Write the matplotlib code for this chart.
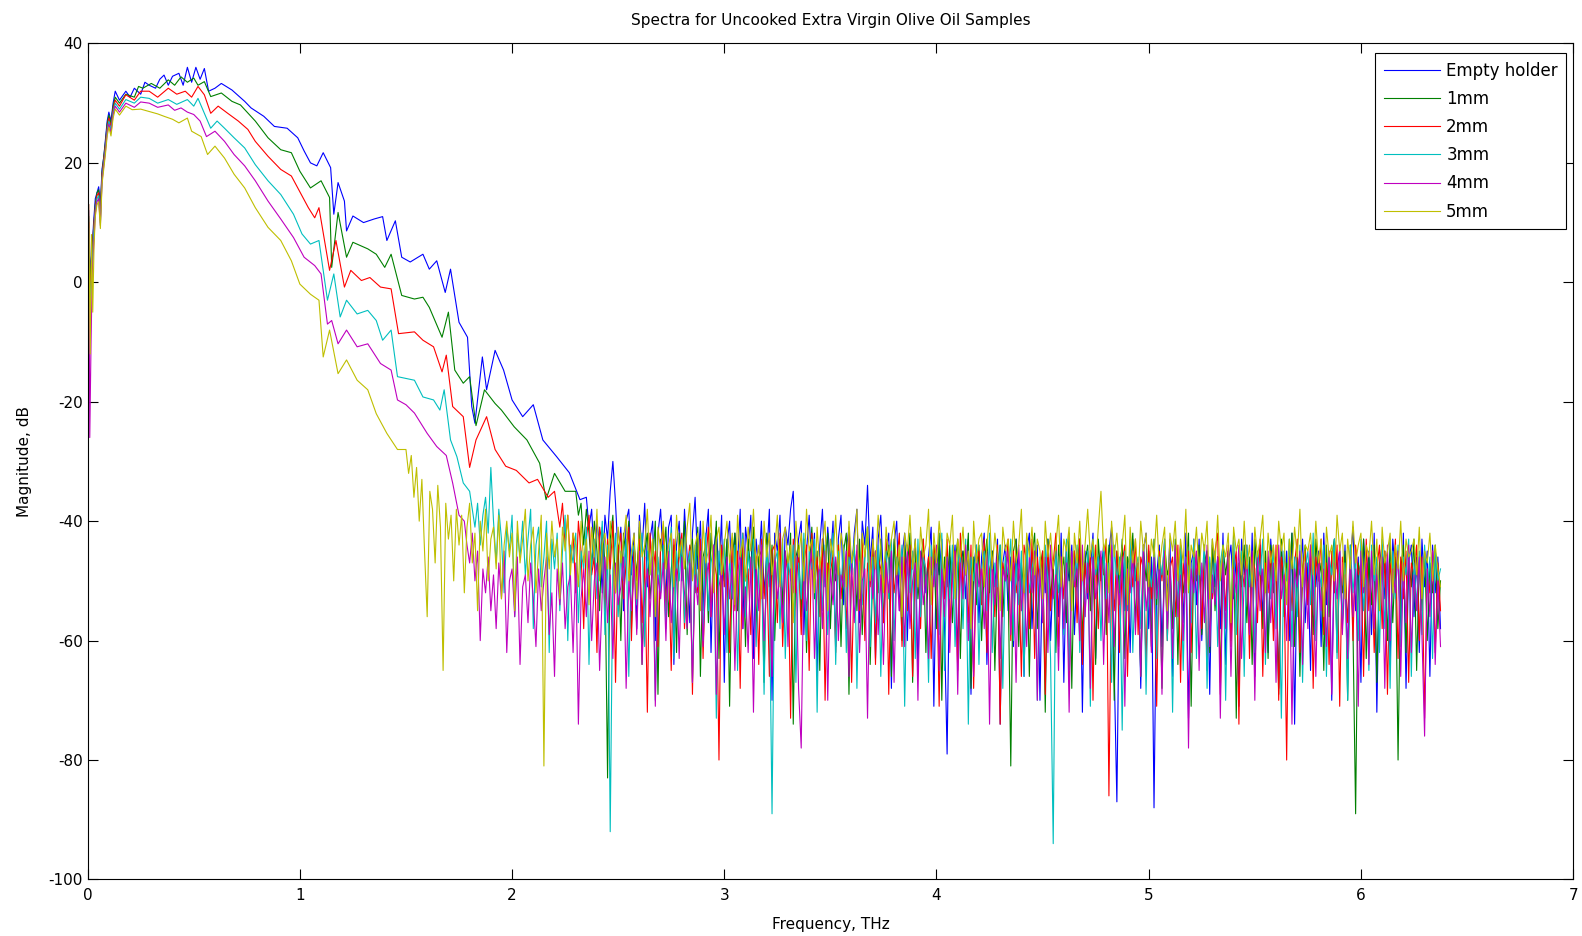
import numpy as np
import matplotlib
matplotlib.use("Agg")
import matplotlib.pyplot as plt

plt.rcParams['font.family'] = ['DejaVu Sans']
plt.rcParams['axes.unicode_minus'] = False

# smooth part of each spectrum: (frequency THz, magnitude dB)
blue_pts = [(0.005, 12), (0.012, 2), (0.02, 5), (0.028, 10), (0.036, 14), (0.044, 15), (0.052, 16), (0.06, 13),
            (0.068, 19), (0.076, 21), (0.084, 24), (0.092, 27), (0.1, 28.5), (0.11, 27), (0.12, 30), (0.13, 32),
            (0.15, 30.5), (0.18, 32), (0.2, 31), (0.22, 32.5), (0.25, 31.5), (0.27, 33.5), (0.29, 33), (0.32, 32.5),
            (0.34, 34), (0.36, 34.7), (0.38, 33), (0.40, 34.5), (0.43, 35), (0.45, 33), (0.47, 36), (0.49, 33.5),
            (0.51, 36), (0.53, 34), (0.55, 35.8), (0.57, 32), (0.60, 32.5), (0.63, 33.3), (0.68, 32.2), (0.74, 30.3),
            (0.77, 29.2), (0.83, 27.8), (0.88, 26.1), (0.94, 25.8), (0.99, 24.2), (1.02, 22), (1.05, 20), (1.08, 19.5),
            (1.11, 21.7), (1.145, 19.2), (1.16, 11.4), (1.18, 16.7), (1.21, 13.6), (1.22, 8.6), (1.25, 11.1),
            (1.30, 10), (1.35, 10.6), (1.39, 11), (1.41, 7), (1.45, 10.3), (1.48, 4.2), (1.52, 3.4), (1.58, 4.7),
            (1.61, 2.2), (1.645, 3.6), (1.685, -1.7), (1.71, 2.2), (1.75, -6.7), (1.79, -9.2), (1.81, -20.8),
            (1.825, -23.6), (1.86, -12.5), (1.88, -18), (1.92, -11.4), (1.96, -14.7), (2.0, -19.7), (2.05, -22.5),
            (2.1, -20.5), (2.145, -26.4), (2.21, -29.2), (2.27, -31.9), (2.32, -36.4)]
green_pts = [(0.005, 11), (0.012, 0), (0.02, 4), (0.028, 9), (0.036, 13), (0.044, 15), (0.052, 15.5), (0.06, 12),
             (0.068, 18.5), (0.076, 21), (0.084, 23.5), (0.092, 26.5), (0.1, 28), (0.11, 26.5), (0.12, 29.5),
             (0.13, 31), (0.15, 30), (0.18, 31.5), (0.22, 31), (0.24, 32.8), (0.26, 32.5), (0.3, 33.3), (0.34, 32.5),
             (0.38, 33.9), (0.41, 33), (0.44, 34.4), (0.47, 33.5), (0.5, 34.2), (0.52, 33), (0.55, 33.6), (0.58, 31.1),
             (0.63, 31.7), (0.68, 30.3), (0.72, 29.7), (0.79, 27), (0.85, 24.2), (0.91, 22.2), (0.96, 21.7),
             (1.0, 18.6), (1.05, 15.8), (1.1, 17), (1.14, 14.2), (1.15, 2.5), (1.18, 11.7), (1.22, 4.2), (1.25, 6.7),
             (1.32, 5.6), (1.36, 4.7), (1.40, 2.5), (1.43, 4.7), (1.48, -2.2), (1.54, -2.8), (1.58, -2.5),
             (1.61, -4.2), (1.67, -9.2), (1.70, -5), (1.73, -14.7), (1.77, -16.9), (1.80, -15.8), (1.83, -24),
             (1.87, -18), (1.92, -20.3), (1.95, -21.4), (2.01, -24.2), (2.07, -26.4), (2.13, -30.3), (2.16, -36.4),
             (2.2, -32), (2.25, -35)]
red_pts = [(0.005, 10), (0.012, -2), (0.02, 3), (0.028, 9), (0.036, 12.5), (0.044, 14.5), (0.052, 15), (0.06, 11),
           (0.068, 18), (0.076, 20.5), (0.084, 23), (0.092, 26), (0.1, 27.5), (0.11, 26), (0.12, 29), (0.13, 30.5),
           (0.15, 29.5), (0.18, 31.4), (0.22, 30.5), (0.25, 32), (0.29, 32), (0.33, 31), (0.38, 32.5), (0.42, 31.5),
           (0.46, 32), (0.49, 31), (0.52, 32.8), (0.55, 31.4), (0.58, 28.3), (0.615, 29.5), (0.66, 28.3),
           (0.71, 27), (0.755, 25.6), (0.79, 23.6), (0.85, 21.1), (0.91, 18.9), (0.96, 17.8), (0.99, 15.8),
           (1.04, 12.5), (1.07, 10.8), (1.09, 12.5), (1.14, 2), (1.17, 7), (1.21, -0.8), (1.24, 2), (1.29, 0.3),
           (1.33, 0.8), (1.38, -0.8), (1.43, -1.1), (1.465, -8.6), (1.54, -8.3), (1.58, -9.7), (1.63, -10.8),
           (1.67, -15), (1.69, -12.2), (1.72, -20.8), (1.77, -22.5), (1.80, -31), (1.83, -26.4), (1.88, -22.5),
           (1.92, -28), (1.97, -30.8), (2.02, -31.5), (2.08, -33.6), (2.12, -33), (2.17, -36)]
cyan_pts = [(0.005, 9), (0.012, -4), (0.02, 2), (0.028, 8), (0.036, 12), (0.044, 14), (0.052, 14.5), (0.06, 10),
            (0.068, 17.5), (0.076, 20), (0.084, 22.5), (0.092, 25.5), (0.1, 27), (0.11, 25.5), (0.12, 28.5),
            (0.13, 30), (0.15, 29), (0.18, 30.6), (0.22, 30), (0.25, 31), (0.29, 30.8), (0.33, 30), (0.38, 30.6),
            (0.42, 29.8), (0.47, 30.6), (0.50, 29.5), (0.52, 30.8), (0.55, 28.3), (0.58, 25.8), (0.61, 27),
            (0.645, 25.8), (0.69, 24.2), (0.74, 22.5), (0.79, 19.7), (0.85, 17), (0.91, 14.7), (0.97, 11.4),
            (1.01, 8.1), (1.05, 6.4), (1.09, 7), (1.13, -3), (1.16, 1.4), (1.19, -5.8), (1.22, -3), (1.27, -5.3),
            (1.32, -4.7), (1.36, -6.4), (1.39, -9.7), (1.43, -8), (1.46, -15.8), (1.54, -16.4), (1.58, -19.2),
            (1.63, -19.7), (1.66, -21.4), (1.68, -18), (1.71, -26.4), (1.74, -29.2), (1.77, -33.6)]
magenta_pts = [(0.005, 13), (0.01, -26), (0.016, -10), (0.022, 2), (0.03, 7), (0.036, 11.5), (0.044, 13.5),
               (0.052, 14), (0.06, 9.5), (0.068, 17), (0.076, 19.5), (0.084, 22), (0.092, 25), (0.1, 26.5),
               (0.11, 25), (0.12, 28), (0.13, 29.5), (0.15, 28.5), (0.18, 30), (0.22, 29.3), (0.25, 30.2),
               (0.29, 30), (0.33, 29.3), (0.38, 29.7), (0.41, 28.8), (0.44, 29.2), (0.47, 28.5), (0.5, 28.1),
               (0.53, 27), (0.56, 24.4), (0.60, 25.3), (0.645, 23.6), (0.69, 21.4), (0.74, 19.5), (0.79, 17),
               (0.85, 13.6), (0.91, 10.6), (0.97, 7.5), (1.02, 4.2), (1.07, 2.8), (1.10, 1.4), (1.13, -7),
               (1.15, -6.4), (1.18, -10.3), (1.22, -8), (1.27, -10.8), (1.32, -10.3), (1.38, -13.6), (1.43, -14.7),
               (1.46, -19.7), (1.50, -20.5), (1.54, -21.9), (1.60, -25.3), (1.645, -27.5), (1.69, -29),
               (1.72, -33.6), (1.75, -39)]
yellow_pts = [(0.005, 13), (0.012, -12), (0.018, 8), (0.024, -5), (0.03, 6), (0.036, 11), (0.044, 13),
              (0.052, 13.5), (0.06, 9), (0.068, 16.5), (0.076, 19), (0.084, 21.5), (0.092, 24.5), (0.1, 26),
              (0.11, 24.5), (0.12, 27.5), (0.13, 29), (0.15, 28), (0.18, 29.5), (0.21, 28.9), (0.25, 29),
              (0.29, 28.6), (0.33, 28.2), (0.36, 27.8), (0.40, 27.3), (0.43, 26.7), (0.47, 27.5), (0.49, 25.3),
              (0.535, 24.4), (0.565, 21.4), (0.60, 22.8), (0.645, 20.8), (0.69, 18.1), (0.74, 15.8), (0.79, 12.5),
              (0.85, 9.2), (0.91, 7), (0.96, 3.6), (1.0, -0.3), (1.05, -2), (1.09, -3), (1.11, -12.5), (1.14, -8),
              (1.18, -15.3), (1.22, -13), (1.27, -16.4), (1.32, -18), (1.36, -22), (1.41, -25.3), (1.46, -28)]

# noise floor, sampled every 0.0125 THz from the start frequency up to 6.375 THz
blue_start = 2.35
blue_noise = [-36, -41, -38, -47, -40, -44, -52, -39, -43, -35, -30, -37, -46, -41, -55, -40, -38, -49, -42, -58,
              -39, -45, -37, -51, -43, -40, -60, -42, -38, -47, -53, -41, -39, -64, -44, -40, -50, -38, -46, -57,
              -42, -36, -48, -40, -55, -43, -38, -62, -45, -41, -49, -39, -67, -44, -40, -53, -42, -47, -38, -58,
              -41, -45, -39, -63, -43, -48, -40, -52, -46, -38, -70, -42, -45, -39, -56, -41, -44, -38, -35, -50,
              -43, -40, -59, -45, -39, -48, -42, -66, -44, -38, -51, -41, -47, -40, -61, -43, -39, -54, -45, -41,
              -49, -42, -38, -57, -40, -44, -34, -47, -41, -63, -43, -39, -50, -45, -42, -68, -44, -40, -55, -46,
              -42, -60, -45, -48, -43, -65, -47, -44, -52, -46, -41, -71, -45, -49, -43, -58, -79, -46, -50, -44,
              -62, -47, -45, -53, -43, -69, -48, -44, -57, -46, -42, -64, -49, -45, -51, -43, -74, -47, -44, -55,
              -46, -61, -43, -50, -48, -66, -45, -42, -58, -47, -44, -70, -46, -52, -43, -60, -48, -45, -56, -42,
              -67, -46, -50, -44, -59, -47, -43, -72, -45, -53, -48, -42, -63, -46, -49, -44, -57, -45, -41, -65,
              -87, -48, -44, -55, -46, -62, -43, -50, -47, -68, -45, -42, -58, -46, -88, -49, -44, -61, -47, -52,
              -43, -66, -46, -49, -44, -57, -42, -73, -47, -45, -54, -43, -60, -48, -45, -69, -44, -51, -46, -58,
              -42, -64, -47, -44, -53, -46, -71, -43, -49, -45, -59, -42, -66, -48, -44, -56, -46, -62, -43, -50,
              -47, -68, -44, -52, -45, -60, -42, -74, -46, -49, -43, -57, -47, -65, -44, -51, -45, -61, -42, -54,
              -46, -70, -43, -48, -45, -58, -44, -63, -47, -41, -55, -46, -67, -43, -50, -45, -59, -42, -72, -47,
              -44, -53, -46, -64, -43, -49, -45, -60, -42, -68, -47, -44, -56, -46, -62, -43, -51, -45, -66, -44,
              -52, -46, -58]
green_start = 2.30
green_noise = [-35, -39, -37, -44, -38, -42, -48, -40, -45, -55, -41, -47, -83, -43, -39, -52, -44, -60, -42, -46,
               -40, -58, -44, -49, -41, -64, -45, -42, -53, -47, -40, -69, -43, -46, -41, -56, -48, -44, -62, -42,
               -47, -40, -59, -45, -43, -52, -41, -66, -46, -44, -57, -42, -48, -40, -63, -45, -50, -43, -71, -46,
               -42, -55, -47, -44, -61, -43, -49, -41, -58, -46, -45, -67, -42, -51, -44, -60, -47, -43, -54, -45,
               -49, -42, -74, -46, -44, -56, -43, -62, -48, -41, -53, -45, -65, -43, -47, -42, -58, -46, -50, -44,
               -61, -45, -42, -69, -47, -44, -55, -43, -59, -46, -41, -64, -48, -45, -52, -43, -57, -47, -44, -66,
               -43, -50, -46, -60, -44, -48, -42, -67, -45, -53, -47, -43, -62, -46, -49, -44, -58, -42, -70, -46,
               -51, -44, -57, -47, -43, -63, -45, -49, -42, -68, -46, -54, -44, -60, -47, -43, -52, -45, -65, -48,
               -44, -56, -46, -50, -81, -45, -43, -61, -47, -52, -44, -66, -46, -42, -58, -48, -45, -72, -43, -53,
               -47, -62, -44, -49, -46, -57, -42, -68, -45, -51, -43, -60, -47, -44, -55, -46, -64, -43, -50, -45,
               -59, -44, -47, -70, -45, -52, -43, -63, -46, -48, -42, -57, -47, -66, -44, -50, -45, -61, -43, -54,
               -46, -68, -44, -49, -47, -58, -43, -64, -45, -52, -48, -42, -71, -46, -50, -44, -59, -47, -45, -62,
               -43, -55, -46, -67, -44, -49, -45, -60, -42, -73, -47, -51, -44, -57, -46, -64, -43, -50, -48, -58,
               -45, -63, -44, -52, -46, -69, -43, -56, -47, -49, -42, -61, -45, -66, -48, -44, -54, -46, -59, -43,
               -50, -47, -65, -44, -56, -46, -43, -62, -48, -52, -45, -70, -44, -58, -89, -47, -50, -43, -63, -46,
               -54, -44, -67, -47, -49, -45, -60, -43, -57, -46, -80, -48, -44, -62, -46, -51, -43, -65, -47, -55,
               -45, -60, -47, -52, -44, -58, -50]
red_start = 2.20
red_noise = [-35, -38, -41, -37, -44, -39, -47, -42, -52, -40, -45, -58, -43, -39, -49, -46, -62, -41, -44, -55,
             -43, -48, -40, -67, -45, -42, -53, -47, -41, -60, -44, -50, -43, -57, -46, -72, -42, -49, -45, -61,
             -44, -41, -55, -47, -65, -43, -50, -46, -42, -58, -48, -44, -69, -45, -52, -43, -63, -47, -41, -56,
             -46, -49, -80, -44, -51, -47, -62, -43, -55, -45, -68, -42, -50, -48, -59, -44, -46, -64, -43, -53,
             -47, -66, -45, -44, -57, -42, -61, -48, -46, -73, -43, -52, -45, -59, -47, -44, -65, -42, -50, -46,
             -56, -43, -70, -47, -49, -45, -62, -44, -53, -46, -58, -42, -67, -48, -45, -55, -43, -60, -47, -51,
             -44, -64, -46, -48, -57, -43, -69, -45, -52, -47, -42, -61, -46, -55, -44, -66, -48, -45, -58, -43,
             -50, -46, -63, -44, -47, -71, -45, -53, -43, -59, -47, -45, -65, -42, -51, -46, -57, -44, -68, -47,
             -45, -54, -43, -62, -48, -46, -56, -44, -74, -47, -50, -43, -60, -45, -52, -48, -66, -44, -47, -58,
             -43, -63, -46, -51, -45, -69, -44, -55, -47, -42, -61, -46, -53, -44, -67, -48, -45, -57, -43, -64,
             -47, -52, -45, -70, -44, -58, -46, -49, -43, -86, -48, -55, -45, -62, -47, -44, -66, -46, -51, -43,
             -59, -46, -48, -64, -44, -53, -47, -71, -45, -50, -43, -60, -48, -46, -56, -44, -67, -47, -52, -45,
             -62, -43, -49, -46, -58, -44, -65, -47, -53, -45, -42, -69, -46, -55, -44, -61, -48, -45, -74, -47,
             -51, -44, -63, -46, -48, -57, -43, -66, -47, -52, -45, -60, -44, -70, -46, -49, -80, -45, -55, -47,
             -43, -62, -48, -45, -54, -44, -68, -46, -50, -43, -59, -47, -64, -45, -52, -44, -71, -46, -48, -57,
             -45, -60, -44, -49, -47, -66, -43, -55, -46, -62, -48, -44, -58, -45, -69, -47, -51, -43, -63, -46,
             -53, -45, -67, -47, -49, -44, -60, -46, -73, -48, -52, -45, -62, -47, -55]
cyan_start = 1.80
cyan_noise = [-35, -38, -41, -37, -44, -39, -36, -42, -31, -40, -47, -38, -43, -52, -41, -45, -39, -56, -42, -46,
              -40, -49, -43, -38, -58, -44, -41, -51, -46, -40, -62, -43, -48, -42, -55, -45, -39, -60, -44, -47,
              -42, -57, -45, -48, -41, -64, -46, -43, -53, -47, -40, -59, -44, -92, -48, -42, -56, -45, -50, -43,
              -66, -46, -44, -54, -47, -42, -61, -45, -49, -43, -70, -46, -52, -44, -58, -47, -41, -63, -45, -50,
              -43, -57, -48, -45, -67, -44, -51, -46, -60, -42, -55, -47, -44, -73, -45, -49, -43, -62, -46, -53,
              -44, -65, -47, -42, -56, -45, -50, -43, -61, -48, -46, -69, -44, -52, -89, -47, -45, -58, -43, -63,
              -46, -50, -44, -67, -47, -53, -42, -60, -45, -48, -43, -72, -46, -55, -44, -59, -47, -42, -64, -45,
              -51, -44, -62, -46, -49, -43, -68, -47, -54, -45, -41, -61, -46, -57, -44, -66, -48, -45, -53, -43,
              -60, -46, -49, -44, -71, -47, -52, -45, -63, -43, -56, -46, -48, -67, -44, -50, -47, -59, -42, -65,
              -46, -53, -44, -61, -47, -45, -58, -43, -74, -46, -50, -44, -64, -48, -45, -55, -42, -62, -47, -51,
              -44, -68, -46, -49, -43, -60, -47, -54, -45, -66, -43, -52, -48, -45, -70, -46, -57, -44, -50, -63,
              -94, -45, -52, -47, -59, -43, -65, -46, -50, -44, -62, -47, -56, -45, -71, -43, -49, -46, -60, -44,
              -53, -47, -67, -44, -50, -46, -75, -45, -55, -43, -62, -48, -46, -58, -44, -69, -47, -51, -45, -63,
              -46, -49, -43, -60, -47, -72, -45, -54, -44, -65, -46, -48, -57, -43, -63, -47, -50, -44, -68, -46,
              -52, -45, -61, -47, -44, -70, -46, -55, -43, -59, -48, -45, -66, -44, -51, -47, -62, -45, -49, -43,
              -64, -46, -53, -44, -58, -47, -73, -45, -50, -43, -61, -46, -56, -44, -67, -48, -45, -54, -42, -60,
              -47, -51, -44, -66, -46, -49, -43, -63, -45, -57, -47, -70, -44, -52, -46, -60, -43, -55, -48, -65,
              -44, -50, -46, -62, -43, -58, -47, -68, -45, -53, -44, -61, -46, -49, -43, -66, -47, -54, -45, -59,
              -44, -52, -46, -63, -45, -50, -48]
magenta_start = 1.775
magenta_noise = [-40, -44, -47, -42, -50, -45, -60, -48, -52, -46, -55, -49, -58, -47, -53, -45, -62, -50, -48, -56,
                 -46, -64, -51, -49, -57, -47, -53, -61, -48, -55, -50, -46, -59, -52, -66, -48, -54, -47, -58, -51,
                 -49, -62, -47, -74, -53, -48, -56, -45, -60, -50, -47, -65, -52, -46, -57, -49, -63, -47, -54, -51,
                 -46, -68, -50, -55, -47, -59, -45, -64, -52, -48, -56, -46, -71, -49, -53, -47, -60, -45, -57, -50,
                 -48, -63, -46, -52, -58, -47, -67, -49, -54, -45, -61, -50, -47, -56, -44, -69, -51, -48, -59, -46,
                 -53, -47, -65, -49, -45, -58, -51, -62, -46, -72, -48, -55, -44, -60, -50, -47, -66, -46, -53, -49,
                 -57, -45, -61, -48, -52, -46, -68, -78, -47, -55, -49, -44, -63, -50, -47, -58, -45, -70, -48, -54,
                 -46, -60, -49, -51, -45, -66, -47, -57, -44, -62, -50, -48, -73, -46, -53, -45, -59, -49, -64, -47,
                 -52, -45, -67, -48, -55, -46, -61, -44, -58, -50, -47, -70, -45, -54, -49, -63, -46, -51, -44, -65,
                 -48, -56, -46, -62, -50, -45, -69, -47, -53, -44, -60, -49, -66, -46, -51, -48, -58, -45, -74, -47,
                 -54, -46, -63, -48, -50, -45, -59, -47, -67, -44, -55, -49, -61, -46, -52, -45, -70, -48, -57, -46,
                 -62, -44, -53, -49, -65, -46, -58, -47, -72, -45, -51, -48, -60, -44, -56, -47, -68, -46, -53, -50,
                 -45, -64, -47, -57, -44, -61, -49, -54, -46, -71, -48, -52, -45, -59, -47, -66, -44, -55, -50, -62,
                 -46, -53, -48, -69, -45, -58, -47, -63, -44, -56, -49, -60, -46, -78, -48, -52, -45, -65, -47, -57,
                 -44, -61, -49, -54, -46, -73, -47, -58, -45, -66, -48, -52, -44, -63, -50, -47, -59, -45, -70, -46,
                 -55, -48, -62, -45, -57, -47, -67, -44, -53, -49, -60, -46, -74, -48, -51, -45, -64, -47, -58, -44,
                 -50, -66, -46, -55, -48, -61, -45, -69, -47, -53, -44, -59, -49, -63, -46, -56, -48, -71, -45, -52,
                 -47, -64, -45, -58, -49, -54, -46, -68, -44, -60, -48, -52, -45, -66, -47, -57, -44, -62, -49, -55,
                 -46, -59, -76, -48, -56, -45, -64, -50, -61]
yellow_start = 1.50
yellow_noise = [-28, -32, -29, -36, -31, -40, -33, -45, -56, -35, -38, -47, -34, -41, -65, -37, -43, -39, -50, -38,
                -44, -39, -52, -41, -37, -47, -42, -55, -40, -45, -38, -50, -43, -41, -48, -39, -53, -44, -40, -46,
                -42, -55, -40, -47, -43, -38, -50, -44, -41, -52, -45, -39, -81, -42, -48, -40, -46, -43, -53, -41,
                -45, -39, -49, -42, -44, -51, -40, -47, -43, -54, -41, -46, -38, -50, -44, -42, -48, -40, -45, -52,
                -41, -47, -43, -39, -50, -45, -42, -53, -40, -46, -44, -38, -49, -43, -56, -41, -45, -40, -48, -44,
                -42, -51, -39, -46, -43, -48, -41, -37, -50, -44, -42, -55, -40, -47, -45, -39, -52, -43, -41, -49,
                -44, -40, -47, -42, -54, -39, -46, -43, -50, -41, -45, -38, -48, -44, -53, -40, -46, -42, -49, -45,
                -39, -51, -43, -41, -47, -44, -57, -40, -46, -42, -50, -38, -45, -43, -52, -41, -48, -44, -40, -55,
                -43, -46, -39, -49, -42, -45, -51, -40, -47, -44, -38, -53, -42, -46, -41, -50, -43, -48, -39, -45,
                -52, -41, -46, -43, -40, -49, -44, -56, -42, -45, -39, -48, -43, -51, -41, -46, -44, -38, -54, -42,
                -47, -40, -45, -50, -42, -44, -39, -53, -43, -46, -41, -49, -45, -58, -40, -47, -43, -42, -51, -44,
                -39, -48, -42, -46, -55, -41, -45, -43, -50, -40, -47, -44, -38, -52, -42, -46, -41, -49, -43, -45,
                -53, -40, -46, -42, -48, -44, -39, -51, -43, -45, -41, -55, -42, -47, -40, -50, -44, -38, -46, -43,
                -48, -41, -35, -45, -43, -52, -40, -46, -42, -49, -44, -39, -54, -41, -47, -43, -50, -40, -45, -42,
                -51, -43, -46, -39, -48, -44, -41, -55, -42, -45, -40, -50, -43, -47, -38, -52, -44, -46, -41, -49,
                -42, -45, -40, -53, -43, -47, -39, -50, -44, -46, -42, -57, -41, -45, -43, -49, -40, -48, -44, -51,
                -41, -46, -43, -39, -52, -42, -47, -44, -50, -40, -45, -42, -54, -43, -48, -41, -46, -38, -51, -44,
                -45, -42, -49, -40, -47, -43, -56, -41, -46, -44, -50, -39, -45, -42, -53, -43, -48, -40, -47, -44,
                -42, -51, -44, -46, -40, -49, -43, -55, -41, -47, -45, -42, -52, -44, -48, -40, -50, -43, -46, -45,
                -43, -49, -41, -53, -45, -47, -42, -50, -44, -48, -51]
noise_end = 6.375

labels = ['Empty holder', '1mm', '2mm', '3mm', '4mm', '5mm']
colors = ['#0000ff', '#008000', '#ff0000', '#00bfbf', '#bf00bf', '#bfbf00']

series = [(blue_pts, blue_start, blue_noise), (green_pts, green_start, green_noise),
          (red_pts, red_start, red_noise), (cyan_pts, cyan_start, cyan_noise),
          (magenta_pts, magenta_start, magenta_noise), (yellow_pts, yellow_start, yellow_noise)]

fig = plt.figure(figsize=(15.82, 9.36), dpi=100)
ax = fig.add_axes([0.0554, 0.0604, 0.939, 0.8932])

for (pts, f0, noise), c, lab in zip(series, colors, labels):
    f_s, m_s = zip(*pts)
    f_n = np.linspace(f0, noise_end, len(noise))
    f = np.concatenate([f_s, f_n])
    m = np.concatenate([m_s, noise])
    ax.plot(f, m, color=c, lw=0.8, label=lab)

ax.set_xlim(0, 7)
ax.set_ylim(-100, 40)
ax.set_xticks(range(0, 8))
ax.set_yticks(range(-100, 41, 20))
ax.tick_params(direction='in', length=7, top=True, right=True, labelsize=11, width=0.8)
ax.tick_params(axis='x', pad=6)
for s in ax.spines.values():
    s.set_linewidth(0.8)
ax.set_title('Spectra for Uncooked Extra Virgin Olive Oil Samples', fontsize=11, pad=13)
ax.set_xlabel('Frequency, THz', fontsize=11, labelpad=10)
ax.set_ylabel('Magnitude, dB', fontsize=11, labelpad=12)

leg = ax.legend(loc='upper right', bbox_to_anchor=(0.9953, 0.988), borderaxespad=0, fontsize=12,
                handlelength=3.4, handletextpad=0.36, labelspacing=0.61, borderpad=0.5,
                fancybox=False, framealpha=1, edgecolor='black')
leg.get_frame().set_linewidth(0.8)

fig.savefig('out.png', dpi=100)
